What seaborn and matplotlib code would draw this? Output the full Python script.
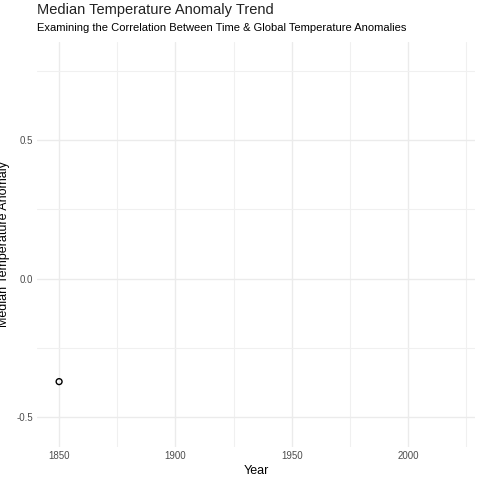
import matplotlib
matplotlib.use("Agg")
import matplotlib.pyplot as plt
import seaborn as sns
import pandas as pd

years = [1850]
anomalies = [-0.372]
xticks = [1850, 1900, 1950, 2000]
yticks = [-0.5, 0.0, 0.5]

sns.set_theme(style="whitegrid")
plt.rcParams['font.family'] = ['Liberation Sans', 'DejaVu Sans']
fig = plt.figure(figsize=(4.8, 4.8), dpi=100)
ax = fig.add_axes([37/480, 1-447/480, 438/480, 405/480])
df = pd.DataFrame({"Year": years, "Anomaly": anomalies})
sns.scatterplot(data=df, x="Year", y="Anomaly", ax=ax, s=18, facecolor="none", edgecolor="black", linewidth=1.0)
ax.set_xlim(1840.5, 2028.8)
ax.set_ylim(-0.608, 0.854)
ax.set_xticks(xticks)
ax.set_xticks([1875, 1925, 1975, 2025], minor=True)
ax.set_yticks(yticks)
ax.set_yticks([-0.25, 0.25, 0.75], minor=True)
ax.set_yticklabels(["-0.5", "0.0", "0.5"])
ax.grid(True, which="major", color="#ebebeb", linewidth=1.0)
ax.grid(True, which="minor", color="#f0f0f0", linewidth=0.8)
for s in ax.spines.values():
    s.set_visible(False)
ax.tick_params(axis="both", labelsize=7, colors="#4d4d4d", length=0, pad=3)
ax.set_xlabel("Year", fontsize=9, color="black", labelpad=3)
ax.set_ylabel("Median Temperature Anomaly", fontsize=9, color="black")
ax.yaxis.set_label_coords(-27/438, 0.5)
fig.text(37/480, 1-10/480, "Median Temperature Anomaly Trend", fontsize=10.5, color="#222222", va="center")
fig.text(37/480, 1-28/480, "Examining the Correlation Between Time & Global Temperature Anomalies", fontsize=8, color="black", va="center")
fig.savefig("out.png", dpi=100, facecolor="white")
